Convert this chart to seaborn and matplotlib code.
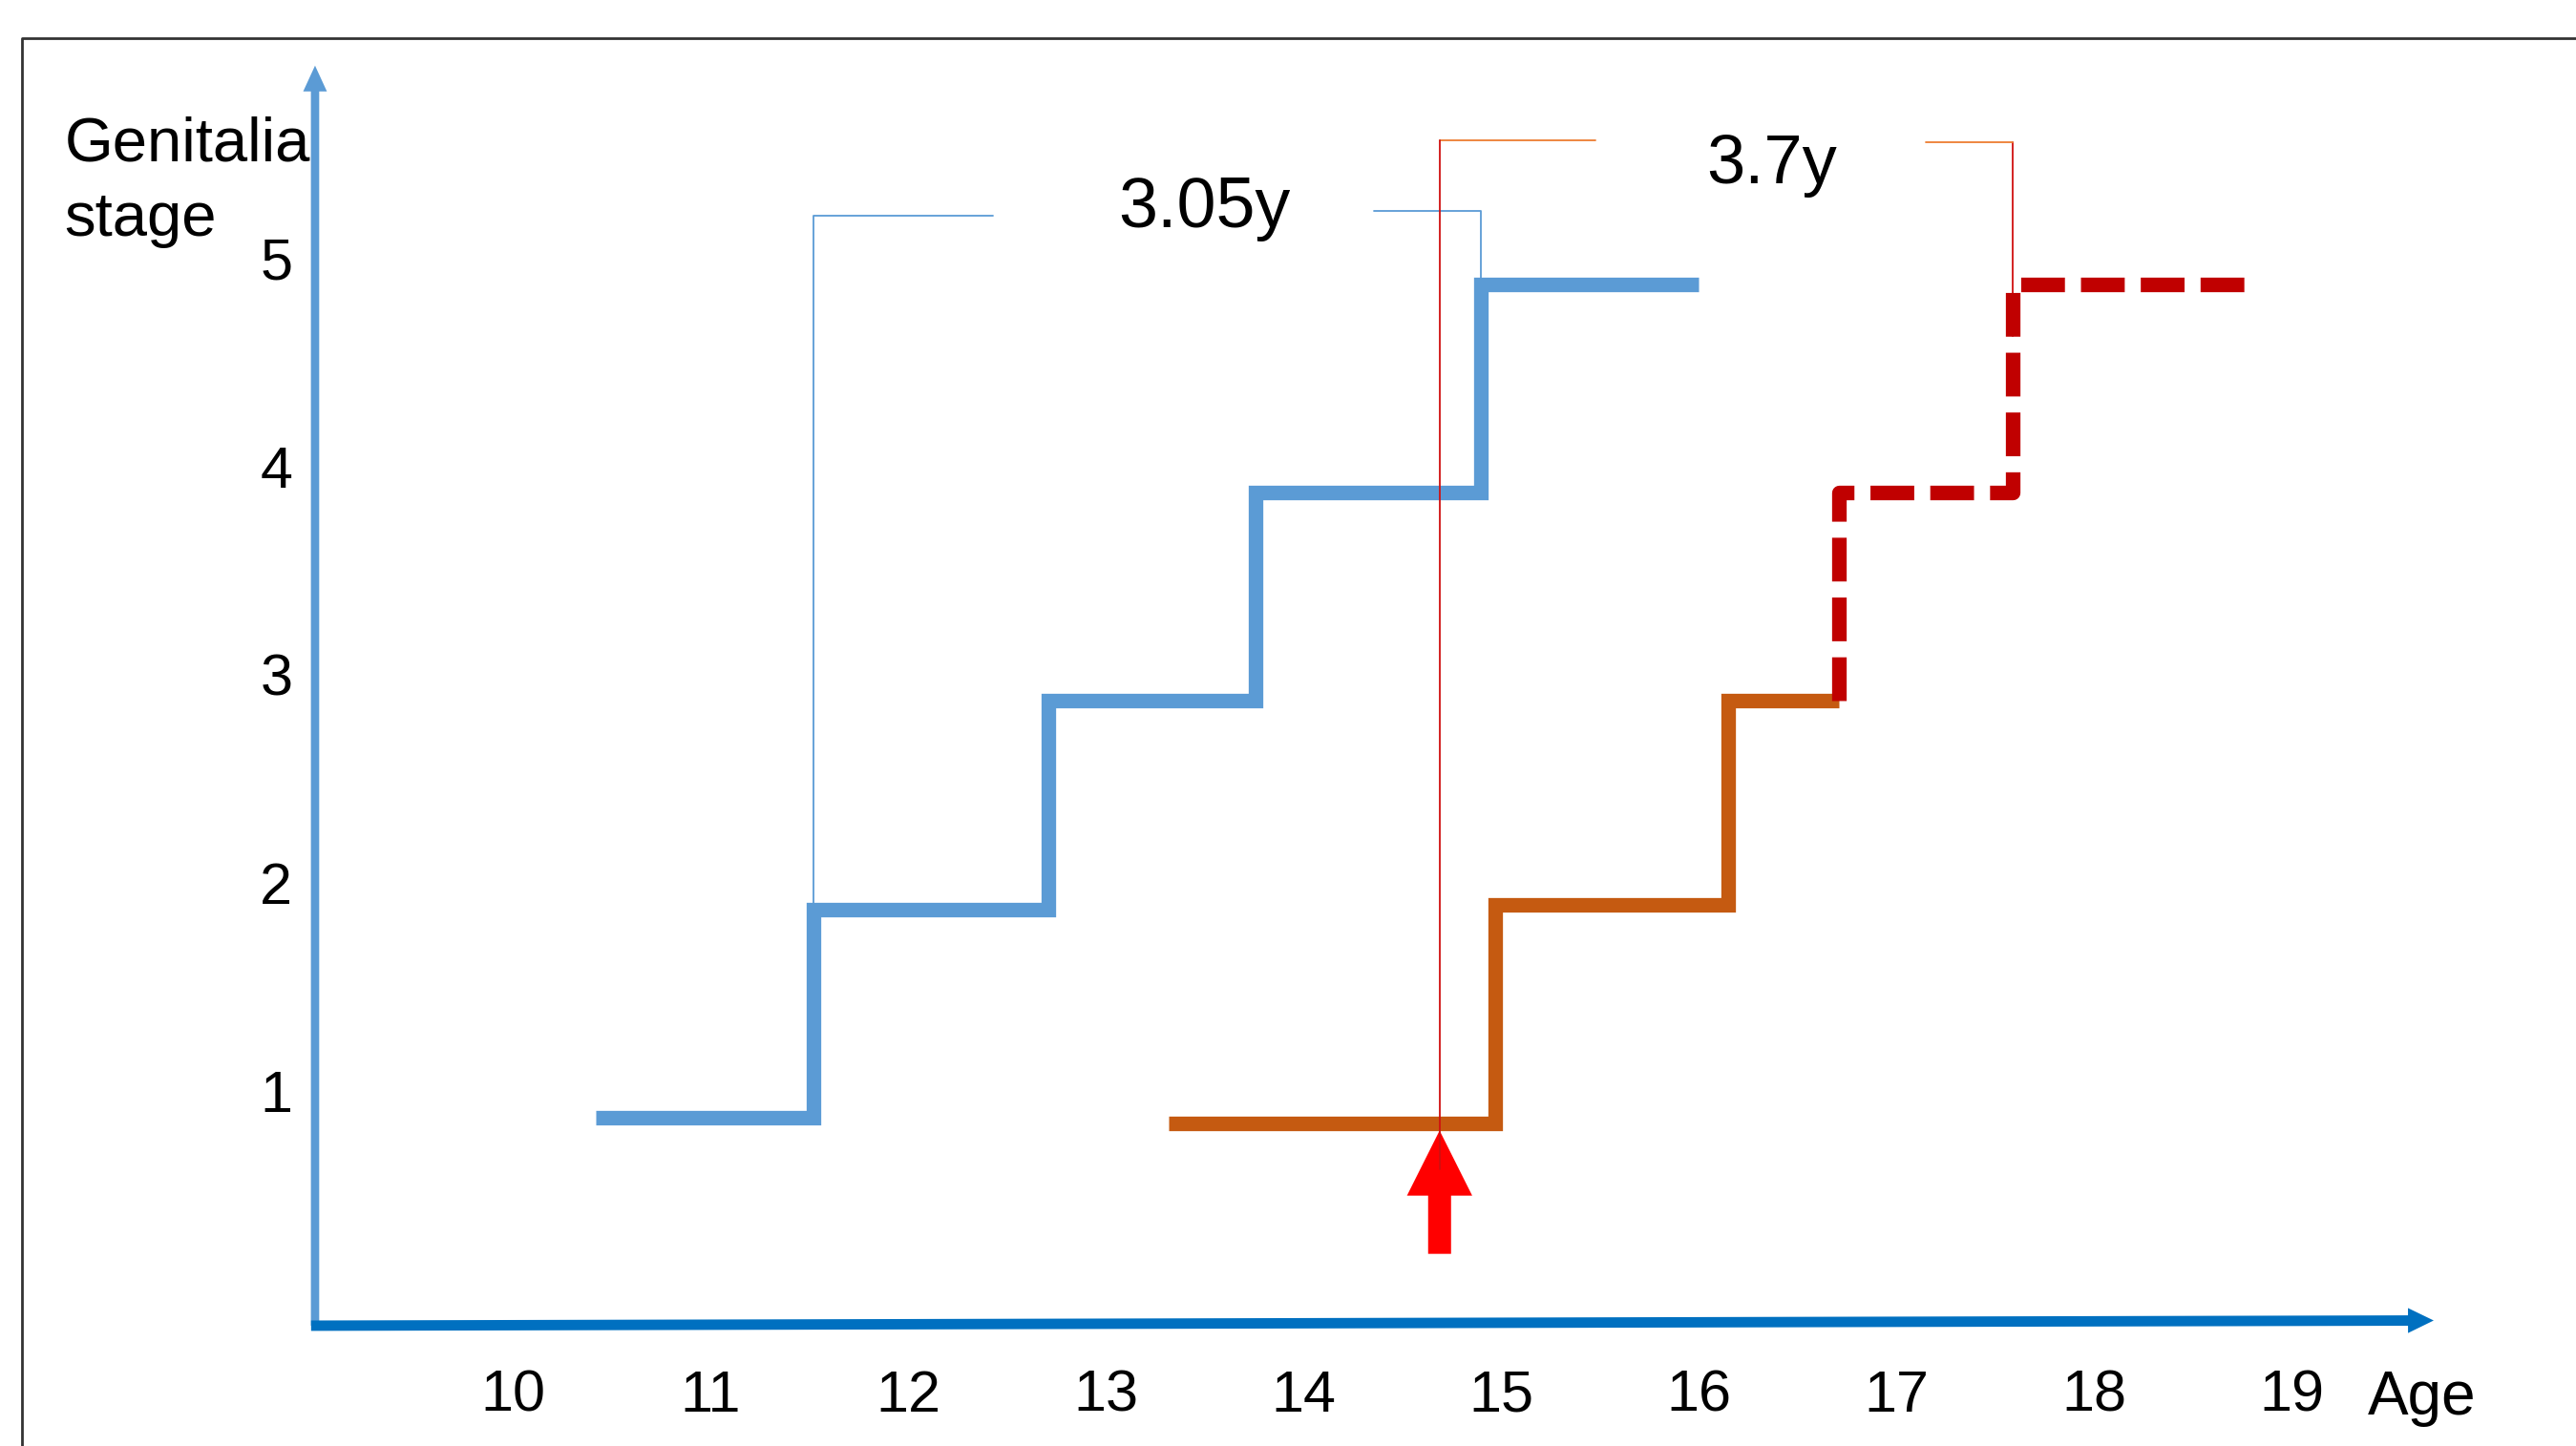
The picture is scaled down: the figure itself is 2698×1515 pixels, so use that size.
import matplotlib
matplotlib.use("Agg")
import matplotlib.pyplot as plt
import matplotlib.transforms as mtransforms
import seaborn as sns

# tick values
ages = [10, 11, 12, 13, 14, 15, 16, 17, 18, 19]
stages = [1, 2, 3, 4, 5]

# normal progression (blue)
early_age = [10.42, 11.52, 12.71, 13.76, 14.90, 16.00]
early_stage = [1.0, 2.0, 3.0, 4.0, 5.0, 5.0]

# delayed progression, observed (orange)
late_age = [13.32, 14.97, 16.15, 16.71]
late_stage = [0.97, 2.02, 3.0, 3.0]

# delayed progression, projected (red dashed)
late_proj_age = [16.71, 16.71, 17.59, 18.81]
late_proj_stage = [3.0, 4.0, 5.0, 5.0]

treat_age = 14.69
early_gap = "3.05y"
late_gap = "3.7y"

BLUE = "#5B9BD5"
AXBLUE = "#0070C0"
ORANGE = "#C55A11"
LIGHT_ORANGE = "#ED7D31"
DARKRED = "#C00000"
RED = "#FF0000"

sns.set_theme(style="white")
plt.rcParams["font.family"] = ["Liberation Sans", "DejaVu Sans"]
plt.rcParams["text.color"] = "black"
narrow = ["Liberation Sans Narrow", "Liberation Sans", "DejaVu Sans"]

fig = plt.figure(figsize=(26.98, 15.15), dpi=100)
ax = fig.add_axes([0.1223, 0.0832, 1 - 0.1223, 1 - 0.0832])
ax.set_xlim(9, 20.44)
ax.set_ylim(0, 6.365)
sns.despine(ax=ax, left=True, bottom=True)
ax.grid(False)

# step curves
step_kw = dict(ax=ax, drawstyle="steps-post", estimator=None, sort=False, lw=11,
               solid_joinstyle="miter", solid_capstyle="butt", legend=False)
sns.lineplot(x=early_age, y=early_stage, color=BLUE, **step_kw)
sns.lineplot(x=late_age, y=late_stage, color=ORANGE, **step_kw)
sns.lineplot(x=late_proj_age, y=late_proj_stage, color=DARKRED,
             linestyle=(0, (3, 1.1)), dash_capstyle="butt", ax=ax,
             drawstyle="steps-post", estimator=None, sort=False, lw=11, legend=False)

# brackets
thin = 1.3
ax.plot([early_age[1], early_age[1], 12.43], [early_stage[1], 5.33, 5.33], color=BLUE, lw=thin)
ax.plot([14.36, early_age[4], early_age[4]], [5.35, 5.35, early_stage[4]], color=BLUE, lw=thin)
ax.plot([treat_age, 15.48], [5.69, 5.69], color=LIGHT_ORANGE, lw=thin)
ax.plot([17.15, late_proj_age[2]], [5.68, 5.68], color=LIGHT_ORANGE, lw=thin)
ax.plot([late_proj_age[2], late_proj_age[2]], [5.68, 4.75], color="#D01010", lw=thin, zorder=1)
ax.text(13.5, 5.276, early_gap, ha="center", va="baseline", fontsize=53, color="black")
ax.text(16.37, 5.485, late_gap, ha="center", va="baseline", fontsize=52, color="black")

# treatment arrow
ax.arrow(treat_age, 0.345, 0, 0.937 - 0.345, width=0.116, head_width=0.33,
         head_length=0.3125, length_includes_head=True, color=RED, lw=0, zorder=4)
ax.plot([treat_age, treat_age], [0.75, 5.69], color="#D01010", lw=thin, zorder=5)

# axis arrows
ax.arrow(9, 0, 0, 6.05, width=0.042, head_width=0.12, head_length=0.124,
         length_includes_head=True, color=BLUE, lw=0, clip_on=False, zorder=3)
ax.arrow(8.98, 0.0, 19.72 - 8.98, 0.025, width=0.05, head_width=0.12, head_length=0.13,
         length_includes_head=True, color=AXBLUE, lw=0, clip_on=False, zorder=3)

# ticks
ax.set_xticks(ages)
ax.set_xticklabels([str(a) for a in ages], fontfamily=narrow)
ax.set_yticks(stages)
ax.set_yticklabels([str(s) for s in stages], fontfamily=narrow)
ax.tick_params(axis="x", length=0, pad=33, labelsize=44, colors="black")
ax.tick_params(axis="y", length=0, pad=17, labelsize=44, colors="black")
offset = mtransforms.ScaledTranslation(0, 0.275, fig.dpi_scale_trans)
for lab in ax.get_yticklabels():
    lab.set_transform(lab.get_transform() + offset)

ax.text(19.66, -0.428, "Age", ha="center", va="baseline", fontsize=46,
        fontfamily=narrow, color="black", clip_on=False)
fig.text(0.0251, 1 - 98 / 880, "Genitalia", va="baseline", fontsize=47, color="black")
fig.text(0.0251, 1 - 143.5 / 880, "stage", va="baseline", fontsize=47, color="black")

# frame
fig.add_artist(plt.Line2D([0.0085, 0.0085, 1.0], [0.0, 0.9736, 0.9736],
                          transform=fig.transFigure, color="#333333", lw=2))

fig.savefig("out.png", dpi=100)
